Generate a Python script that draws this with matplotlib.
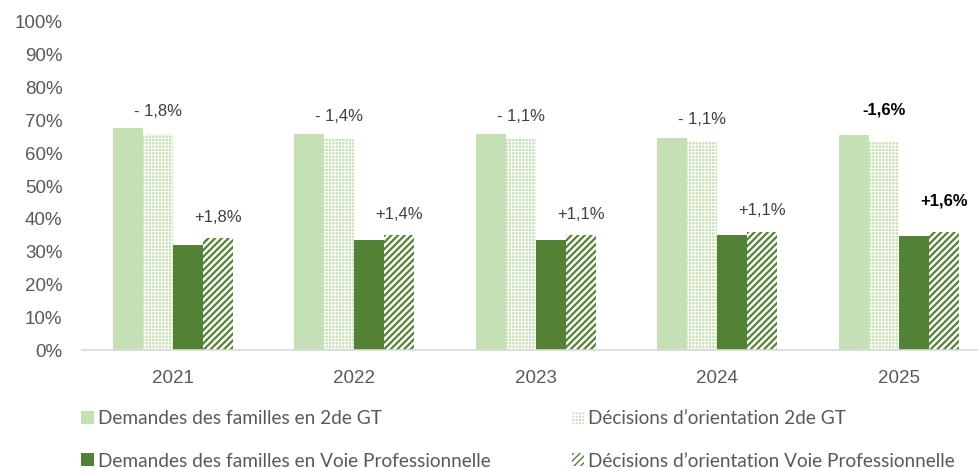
import matplotlib

matplotlib.use("Agg")
import matplotlib.pyplot as plt
import numpy as np

years = ["2021", "2022", "2023", "2024", "2025"]
dem_gt = [67.7, 66.0, 66.0, 64.5, 65.5]
dec_gt = [65.8, 64.5, 64.5, 63.5, 63.5]
dem_vp = [32.1, 33.5, 33.5, 35.1, 34.8]
dec_vp = [34.1, 35.1, 35.1, 36.1, 36.1]
gap_gt = ["- 1,8%", "- 1,4%", "- 1,1%", "- 1,1%", "-1,6%"]
gap_vp = ["+1,8%", "+1,4%", "+1,1%", "+1,1%", "+1,6%"]
series_names = [
    "Demandes des familles en 2de GT",
    "Décisions d\u2019orientation 2de GT",
    "Demandes des familles en Voie Professionnelle",
    "Décisions d\u2019orientation Voie Professionnelle",
]

LIGHT = "#C5E0B4"
DARK = "#548235"
TXT = "#595959"

plt.rcParams["font.family"] = ["Liberation Sans", "DejaVu Sans"]

fig = plt.figure(figsize=(9.79, 4.68), dpi=100)
ax = fig.add_axes([0.0838, 0.252, 0.927, 0.701])

x = np.arange(len(years))
w = 0.165
b1 = ax.bar(x - 1.5 * w, dem_gt, w, color=LIGHT, linewidth=0, label=series_names[0])
# dotted pattern for the GT decisions, diagonal stripes for the VP decisions
with plt.rc_context({"hatch.linewidth": 0.7}):
    b2 = ax.bar(x - 0.5 * w, dec_gt, w, facecolor=LIGHT, edgecolor="white", hatch="+++++",
                linewidth=0, label=series_names[1])
b3 = ax.bar(x + 0.5 * w, dem_vp, w, color=DARK, linewidth=0, label=series_names[2])
with plt.rc_context({"hatch.linewidth": 1.6}):
    b4 = ax.bar(x + 1.5 * w, dec_vp, w, facecolor="white", edgecolor=DARK, hatch="/////",
                linewidth=0, label=series_names[3])

for i in range(len(years)):
    last = i == len(years) - 1
    off = 23 if last else 16
    kw = dict(ha="center", va="center", fontsize=12,
              color="black" if last else "#404040",
              fontweight="bold" if last else "normal")
    ax.annotate(gap_gt[i], (x[i] - 0.5 * w, dec_gt[i]), xytext=(0, off),
                textcoords="offset points", **kw)
    ax.annotate(gap_vp[i], (x[i] + 1.5 * w, dec_vp[i]), xytext=(0, off - 1),
                textcoords="offset points", **kw)

ax.set_ylim(0, 100)
ax.set_xlim(-0.5, 4.5)
ax.set_yticks(np.arange(0, 101, 10))
ax.set_yticklabels([f"{v}%" for v in range(0, 101, 10)])
ax.set_xticks(x)
ax.set_xticklabels(years)
ax.tick_params(axis="both", length=0, labelsize=13.5, colors=TXT)
ax.tick_params(axis="x", pad=14)
ax.tick_params(axis="y", pad=14)
for s in ["top", "right", "left"]:
    ax.spines[s].set_visible(False)
ax.spines["bottom"].set_color("#D9D9D9")
ax.spines["bottom"].set_linewidth(1.2)

handles = [b1, b3, b2, b4]
labels = [series_names[0], series_names[2], series_names[1], series_names[3]]
fig.legend(handles, labels, ncol=2, loc="lower left", bbox_to_anchor=(0.0654, -0.040),
           frameon=False, handlelength=0.67, handleheight=0.67, handletextpad=0.2,
           columnspacing=4.27, labelspacing=1.33,
           prop={"family": ["Lato", "DejaVu Sans"], "size": 13.7}, labelcolor=TXT)

fig.savefig("out.png", dpi=100)
